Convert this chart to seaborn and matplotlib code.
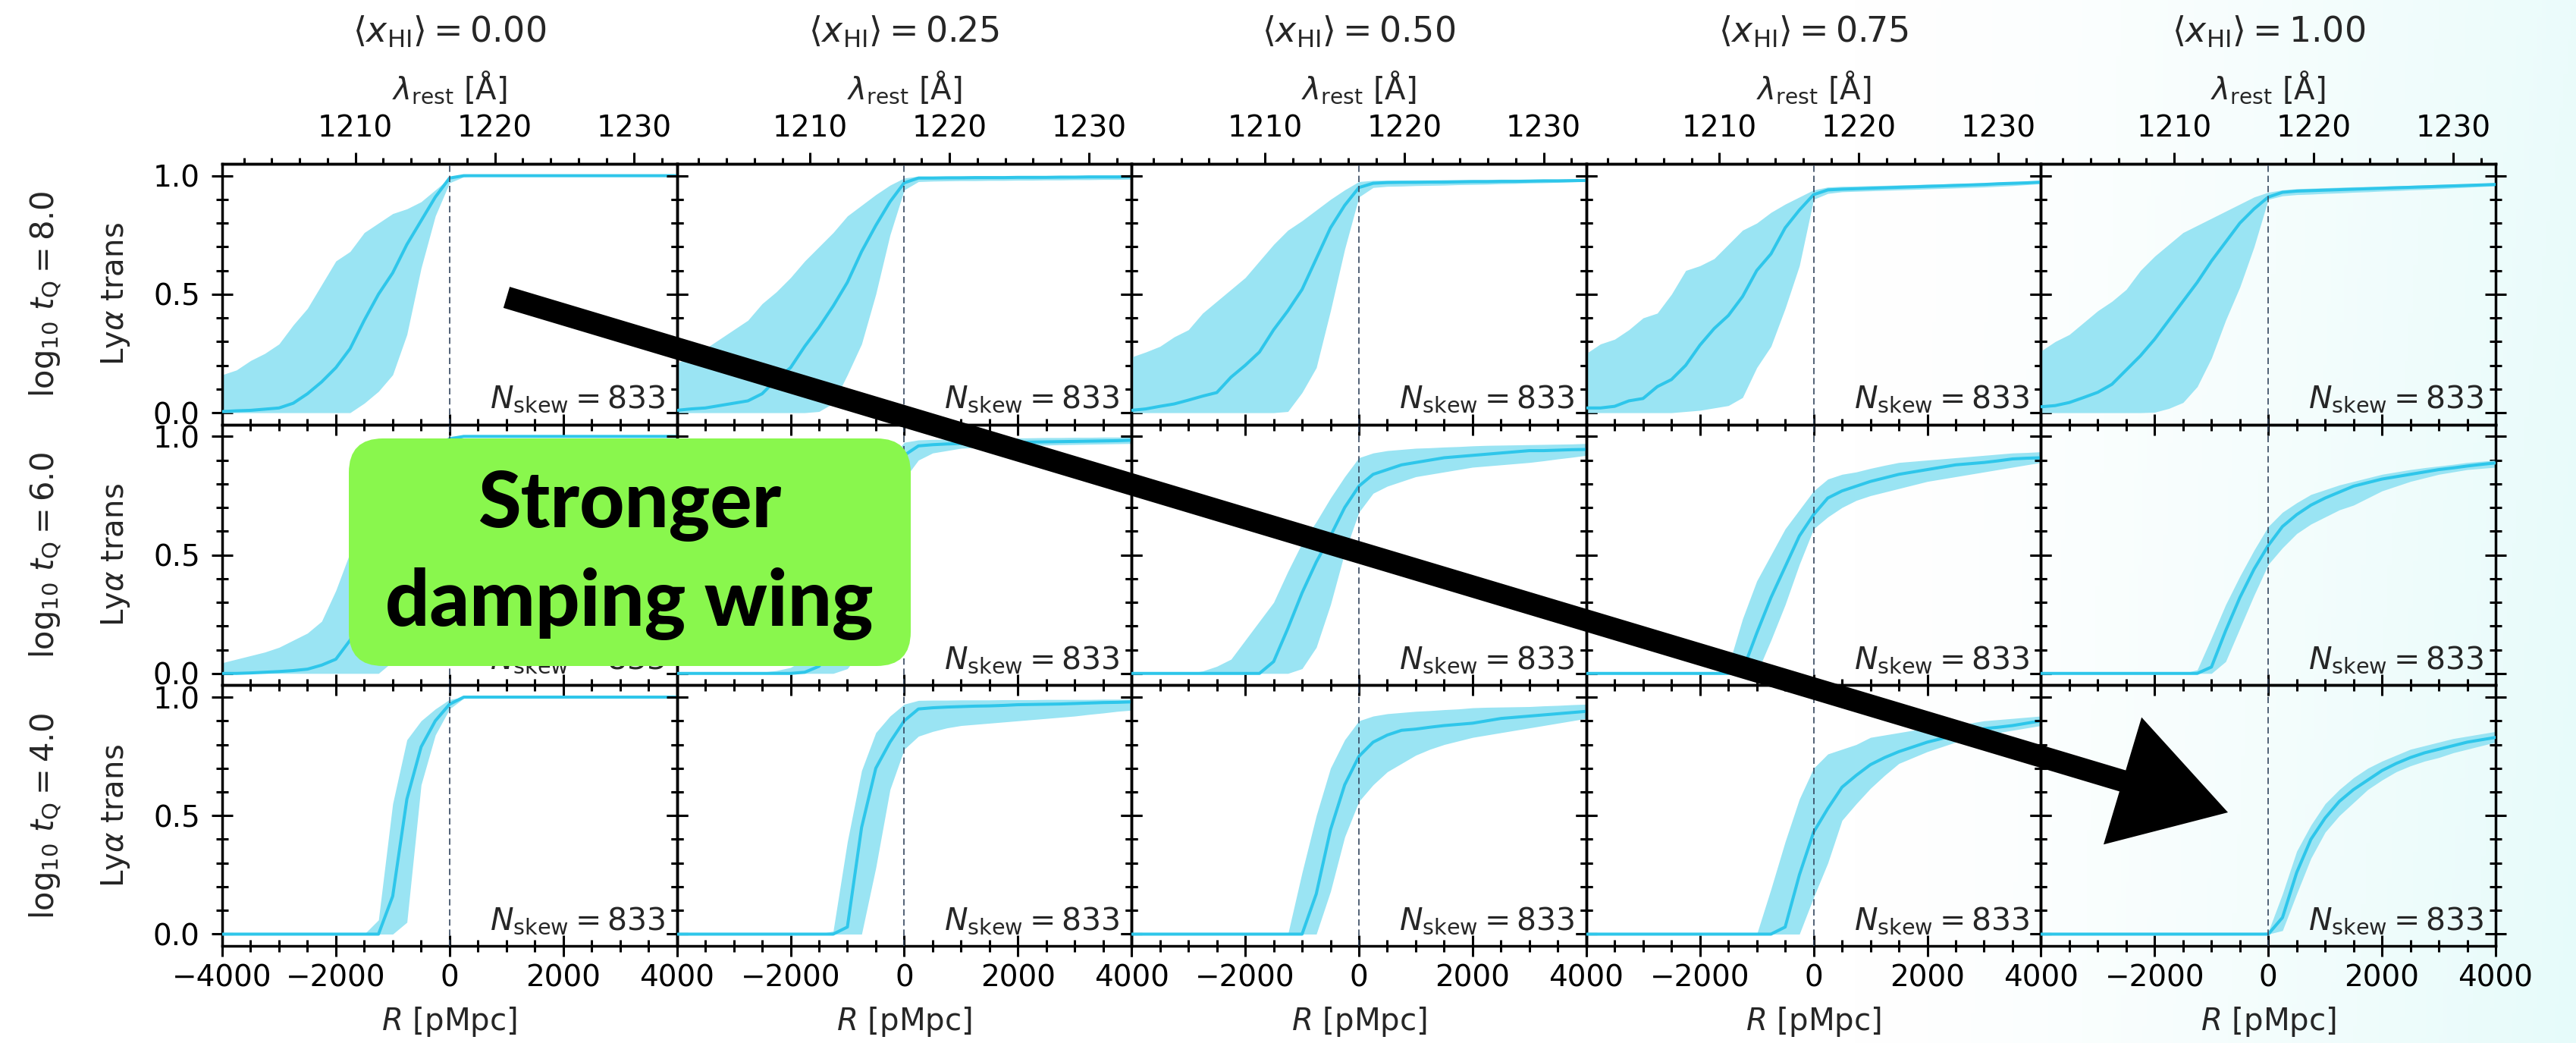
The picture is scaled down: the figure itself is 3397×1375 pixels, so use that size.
import numpy as np
import pandas as pd
import matplotlib
matplotlib.use("Agg")
import matplotlib.pyplot as plt
import matplotlib.patches as mpatches
from matplotlib.ticker import MultipleLocator, FixedLocator, FuncFormatter
import seaborn as sns

# ---------------------------------------------------------------- data
R_GRID = [-4000, -3750, -3500, -3250, -3000, -2750, -2500, -2250, -2000,
          -1750, -1500, -1250, -1000, -750, -500, -250, 0, 250, 500, 750,
          1000, 1250, 1500, 1750, 2000, 2250, 2500, 2750, 3000, 3250, 3500,
          3750, 4000]
XHI_LABELS = ["0.00", "0.25", "0.50", "0.75", "1.00"]
LOG_TQ_LABELS = ["8.0", "6.0", "4.0"]
N_SKEW = 833
LAMBDA_MAJOR = [1210, 1220, 1230]
LAMBDA_MINOR = [1202, 1204, 1206, 1208, 1212, 1214, 1216, 1218,
                1222, 1224, 1226, 1228, 1232]

# log10 tQ = 8.0 : median / 16th / 84th percentile transmission, one list per <x_HI>
med_t8 = [
    [0.005, 0.008, 0.010, 0.015, 0.020, 0.040, 0.080, 0.130, 0.190, 0.270, 0.390, 0.500, 0.590, 0.710, 0.810, 0.910, 0.990,
     1.0, 1.0, 1.0, 1.0, 1.0, 1.0, 1.0, 1.0, 1.0, 1.0, 1.0, 1.0, 1.0, 1.0, 1.0, 1.0],
    [0.010, 0.016, 0.020, 0.030, 0.040, 0.050, 0.080, 0.140, 0.190, 0.280, 0.360, 0.450, 0.550, 0.680, 0.790, 0.890, 0.970, 0.990,
     0.990, 0.991, 0.991, 0.992, 0.992, 0.992, 0.993, 0.993, 0.993, 0.994, 0.994, 0.995, 0.995, 0.995, 0.996],
    [0.010, 0.016, 0.027, 0.037, 0.053, 0.070, 0.085, 0.150, 0.200, 0.256, 0.350, 0.430, 0.520, 0.650, 0.780, 0.875, 0.950, 0.968,
     0.971, 0.972, 0.972, 0.973, 0.973, 0.974, 0.975, 0.975, 0.976, 0.976, 0.977, 0.978, 0.978, 0.979, 0.980],
    [0.020, 0.020, 0.027, 0.050, 0.060, 0.110, 0.140, 0.200, 0.285, 0.355, 0.410, 0.490, 0.600, 0.670, 0.780, 0.855, 0.920, 0.940,
     0.943, 0.945, 0.947, 0.949, 0.951, 0.953, 0.955, 0.957, 0.959, 0.961, 0.963, 0.966, 0.968, 0.970, 0.973],
    [0.025, 0.030, 0.043, 0.064, 0.086, 0.120, 0.180, 0.240, 0.310, 0.390, 0.470, 0.550, 0.640, 0.720, 0.800, 0.860, 0.910, 0.930,
     0.935, 0.937, 0.939, 0.941, 0.943, 0.945, 0.947, 0.949, 0.951, 0.953, 0.955, 0.957, 0.959, 0.961, 0.963],
]
lo_t8 = [
    [0, 0, 0, 0, 0, 0, 0, 0, 0, 0, 0.04, 0.09, 0.16, 0.33, 0.61, 0.83, 0.97, 0.995,
     1.0, 1.0, 1.0, 1.0, 1.0, 1.0, 1.0, 1.0, 1.0, 1.0, 1.0, 1.0, 1.0, 1.0, 1.0],
    [0, 0, 0, 0, 0, 0, 0, 0, 0, 0, 0.005, 0.04, 0.16, 0.29, 0.50, 0.75, 0.94, 0.975,
     0.977, 0.978, 0.979, 0.979, 0.980, 0.980, 0.981, 0.981, 0.982, 0.982, 0.983, 0.983, 0.984, 0.984, 0.985],
    [0, 0, 0, 0, 0, 0, 0, 0, 0, 0, 0, 0.005, 0.085, 0.19, 0.43, 0.69, 0.91, 0.95,
     0.955, 0.956, 0.958, 0.959, 0.960, 0.962, 0.963, 0.964, 0.966, 0.967, 0.969, 0.970, 0.972, 0.974, 0.976],
    [0, 0, 0, 0, 0, 0, 0, 0.005, 0.01, 0.02, 0.03, 0.064, 0.19, 0.28, 0.44, 0.62, 0.90, 0.925,
     0.932, 0.934, 0.936, 0.938, 0.940, 0.942, 0.944, 0.946, 0.948, 0.950, 0.952, 0.955, 0.958, 0.962, 0.966],
    [0, 0, 0, 0, 0, 0, 0, 0, 0.002, 0.018, 0.043, 0.11, 0.23, 0.39, 0.53, 0.70, 0.90, 0.915,
     0.920, 0.922, 0.925, 0.927, 0.930, 0.932, 0.935, 0.937, 0.940, 0.942, 0.945, 0.948, 0.951, 0.954, 0.957],
]
hi_t8 = [
    [0.16, 0.18, 0.22, 0.25, 0.29, 0.37, 0.44, 0.54, 0.64, 0.68, 0.76, 0.80, 0.84, 0.86, 0.89, 0.94, 0.99,
     1.0, 1.0, 1.0, 1.0, 1.0, 1.0, 1.0, 1.0, 1.0, 1.0, 1.0, 1.0, 1.0, 1.0, 1.0, 1.0],
    [0.21, 0.235, 0.27, 0.31, 0.35, 0.39, 0.46, 0.51, 0.57, 0.64, 0.70, 0.76, 0.83, 0.875, 0.92, 0.96, 0.99, 0.998,
     0.998, 0.998, 0.999, 0.999, 0.999, 0.999, 0.999, 1.0, 1.0, 1.0, 1.0, 1.0, 1.0, 1.0, 1.0],
    [0.235, 0.256, 0.280, 0.320, 0.350, 0.420, 0.470, 0.520, 0.570, 0.640, 0.710, 0.770, 0.810, 0.855, 0.900, 0.940, 0.975, 0.980,
     0.981, 0.981, 0.982, 0.982, 0.983, 0.983, 0.984, 0.984, 0.985, 0.985, 0.985, 0.986, 0.986, 0.987, 0.987],
    [0.25, 0.29, 0.31, 0.35, 0.40, 0.42, 0.50, 0.60, 0.62, 0.65, 0.71, 0.77, 0.80, 0.845, 0.88, 0.91, 0.94, 0.952,
     0.955, 0.956, 0.958, 0.959, 0.961, 0.962, 0.964, 0.965, 0.967, 0.968, 0.970, 0.972, 0.974, 0.976, 0.978],
    [0.26, 0.30, 0.33, 0.38, 0.43, 0.47, 0.52, 0.60, 0.66, 0.71, 0.76, 0.79, 0.82, 0.85, 0.88, 0.91, 0.93, 0.94,
     0.945, 0.947, 0.949, 0.951, 0.953, 0.954, 0.956, 0.958, 0.959, 0.961, 0.963, 0.965, 0.966, 0.968, 0.970],
]

# log10 tQ = 6.0
med_t6 = [
    [0, 0, 0.002, 0.005, 0.008, 0.012, 0.018, 0.035, 0.06, 0.14, 0.25, 0.36, 0.48, 0.62, 0.76, 0.90, 0.99,
     1.0, 1.0, 1.0, 1.0, 1.0, 1.0, 1.0, 1.0, 1.0, 1.0, 1.0, 1.0, 1.0, 1.0, 1.0, 1.0],
    [0, 0, 0, 0, 0, 0, 0, 0, 0, 0.005, 0.03, 0.10, 0.22, 0.38, 0.56, 0.76, 0.92, 0.96,
     0.965, 0.968, 0.970, 0.972, 0.973, 0.974, 0.975, 0.976, 0.977, 0.978, 0.979, 0.980, 0.981, 0.982, 0.984],
    [0, 0, 0, 0, 0, 0, 0, 0, 0, 0, 0.05, 0.19, 0.34, 0.47, 0.58, 0.70, 0.79, 0.84,
     0.86, 0.88, 0.89, 0.90, 0.91, 0.915, 0.92, 0.925, 0.93, 0.935, 0.94, 0.94, 0.942, 0.944, 0.945],
    [0, 0, 0, 0, 0, 0, 0, 0, 0, 0, 0, 0.01, 0.17, 0.32, 0.45, 0.58, 0.67, 0.74,
     0.77, 0.79, 0.81, 0.825, 0.84, 0.85, 0.86, 0.87, 0.88, 0.885, 0.89, 0.897, 0.905, 0.908, 0.91],
    [0, 0, 0, 0, 0, 0, 0, 0, 0, 0, 0, 0, 0.027, 0.18, 0.32, 0.44, 0.54, 0.62,
     0.67, 0.71, 0.74, 0.765, 0.79, 0.805, 0.82, 0.83, 0.84, 0.85, 0.86, 0.867, 0.875, 0.882, 0.888],
]
lo_t6 = [
    [0, 0, 0, 0, 0, 0, 0, 0, 0, 0, 0, 0, 0.05, 0.20, 0.45, 0.75, 0.97, 0.998,
     1.0, 1.0, 1.0, 1.0, 1.0, 1.0, 1.0, 1.0, 1.0, 1.0, 1.0, 1.0, 1.0, 1.0, 1.0],
    [0, 0, 0, 0, 0, 0, 0, 0, 0, 0, 0, 0, 0.02, 0.10, 0.28, 0.55, 0.82, 0.90,
     0.930, 0.940, 0.950, 0.953, 0.956, 0.958, 0.960, 0.962, 0.963, 0.965, 0.966, 0.967, 0.968, 0.969, 0.970],
    [0, 0, 0, 0, 0, 0, 0, 0, 0, 0, 0, 0, 0.02, 0.11, 0.29, 0.51, 0.68, 0.76,
     0.79, 0.81, 0.83, 0.84, 0.85, 0.86, 0.87, 0.875, 0.88, 0.885, 0.89, 0.897, 0.905, 0.912, 0.92],
    [0, 0, 0, 0, 0, 0, 0, 0, 0, 0, 0, 0, 0, 0.14, 0.29, 0.46, 0.61, 0.66,
     0.70, 0.73, 0.75, 0.765, 0.78, 0.795, 0.81, 0.82, 0.83, 0.84, 0.85, 0.86, 0.87, 0.88, 0.89],
    [0, 0, 0, 0, 0, 0, 0, 0, 0, 0, 0, 0, 0, 0.05, 0.19, 0.33, 0.46, 0.53,
     0.59, 0.63, 0.66, 0.69, 0.71, 0.74, 0.77, 0.79, 0.81, 0.825, 0.84, 0.85, 0.86, 0.865, 0.87],
]
hi_t6 = [
    [0.045, 0.06, 0.075, 0.09, 0.11, 0.14, 0.17, 0.22, 0.35, 0.51, 0.62, 0.72, 0.80, 0.87, 0.93, 0.97, 1.0,
     1.0, 1.0, 1.0, 1.0, 1.0, 1.0, 1.0, 1.0, 1.0, 1.0, 1.0, 1.0, 1.0, 1.0, 1.0, 1.0],
    [0, 0, 0, 0, 0, 0, 0.005, 0.012, 0.025, 0.06, 0.14, 0.28, 0.45, 0.62, 0.78, 0.90, 0.975, 0.985,
     0.987, 0.988, 0.990, 0.991, 0.992, 0.993, 0.993, 0.994, 0.995, 0.995, 0.996, 0.996, 0.997, 0.997, 0.998],
    [0, 0, 0, 0, 0, 0.01, 0.03, 0.06, 0.14, 0.22, 0.30, 0.43, 0.55, 0.64, 0.74, 0.83, 0.91, 0.93,
     0.94, 0.945, 0.95, 0.952, 0.955, 0.957, 0.96, 0.962, 0.963, 0.964, 0.965, 0.966, 0.967, 0.968, 0.97],
    [0, 0, 0, 0, 0, 0, 0, 0, 0, 0, 0.03, 0.23, 0.39, 0.50, 0.61, 0.69, 0.77, 0.82,
     0.84, 0.85, 0.865, 0.878, 0.89, 0.895, 0.90, 0.905, 0.91, 0.915, 0.92, 0.925, 0.93, 0.932, 0.935],
    [0, 0, 0, 0, 0, 0, 0, 0, 0, 0, 0, 0.015, 0.15, 0.29, 0.41, 0.52, 0.62, 0.68,
     0.72, 0.755, 0.775, 0.795, 0.81, 0.825, 0.84, 0.85, 0.86, 0.868, 0.875, 0.882, 0.89, 0.895, 0.90],
]

# log10 tQ = 4.0
med_t4 = [
    [0, 0, 0, 0, 0, 0, 0, 0, 0, 0, 0, 0, 0.16, 0.57, 0.79, 0.90, 0.97,
     1.0, 1.0, 1.0, 1.0, 1.0, 1.0, 1.0, 1.0, 1.0, 1.0, 1.0, 1.0, 1.0, 1.0, 1.0, 1.0],
    [0, 0, 0, 0, 0, 0, 0, 0, 0, 0, 0, 0, 0.03, 0.45, 0.70, 0.81, 0.90, 0.95,
     0.955, 0.958, 0.96, 0.962, 0.963, 0.965, 0.968, 0.969, 0.97, 0.971, 0.973, 0.975, 0.977, 0.978, 0.98],
    [0, 0, 0, 0, 0, 0, 0, 0, 0, 0, 0, 0, 0, 0.17, 0.44, 0.63, 0.75, 0.81,
     0.84, 0.86, 0.865, 0.873, 0.88, 0.885, 0.89, 0.90, 0.91, 0.915, 0.92, 0.925, 0.93, 0.935, 0.94],
    [0, 0, 0, 0, 0, 0, 0, 0, 0, 0, 0, 0, 0, 0, 0.03, 0.25, 0.43, 0.53,
     0.62, 0.67, 0.715, 0.745, 0.77, 0.79, 0.81, 0.825, 0.84, 0.855, 0.867, 0.873, 0.88, 0.89, 0.90],
    [0, 0, 0, 0, 0, 0, 0, 0, 0, 0, 0, 0, 0, 0, 0, 0, 0, 0.07,
     0.26, 0.40, 0.49, 0.56, 0.61, 0.65, 0.69, 0.72, 0.745, 0.765, 0.78, 0.795, 0.81, 0.82, 0.83],
]
lo_t4 = [
    [0, 0, 0, 0, 0, 0, 0, 0, 0, 0, 0, 0, 0, 0.05, 0.63, 0.84, 0.95, 0.995,
     1.0, 1.0, 1.0, 1.0, 1.0, 1.0, 1.0, 1.0, 1.0, 1.0, 1.0, 1.0, 1.0, 1.0, 1.0],
    [0, 0, 0, 0, 0, 0, 0, 0, 0, 0, 0, 0, 0, 0, 0.28, 0.61, 0.78, 0.835,
     0.855, 0.87, 0.88, 0.885, 0.89, 0.895, 0.90, 0.905, 0.91, 0.915, 0.92, 0.927, 0.933, 0.94, 0.945],
    [0, 0, 0, 0, 0, 0, 0, 0, 0, 0, 0, 0, 0, 0, 0.18, 0.41, 0.56, 0.63,
     0.685, 0.72, 0.755, 0.78, 0.80, 0.815, 0.83, 0.84, 0.85, 0.86, 0.87, 0.88, 0.89, 0.90, 0.91],
    [0, 0, 0, 0, 0, 0, 0, 0, 0, 0, 0, 0, 0, 0, 0, 0, 0.155, 0.30,
     0.48, 0.55, 0.615, 0.67, 0.72, 0.745, 0.77, 0.79, 0.81, 0.82, 0.835, 0.85, 0.86, 0.87, 0.88],
    [0, 0, 0, 0, 0, 0, 0, 0, 0, 0, 0, 0, 0, 0, 0, 0, 0, 0.015,
     0.17, 0.32, 0.43, 0.50, 0.555, 0.61, 0.65, 0.685, 0.71, 0.73, 0.745, 0.765, 0.78, 0.795, 0.81],
]
hi_t4 = [
    [0, 0, 0, 0, 0, 0, 0, 0, 0, 0, 0, 0.06, 0.55, 0.82, 0.90, 0.95, 0.99,
     1.0, 1.0, 1.0, 1.0, 1.0, 1.0, 1.0, 1.0, 1.0, 1.0, 1.0, 1.0, 1.0, 1.0, 1.0, 1.0],
    [0, 0, 0, 0, 0, 0, 0, 0, 0, 0, 0, 0.013, 0.39, 0.69, 0.85, 0.92, 0.97, 0.986,
     0.987, 0.987, 0.988, 0.988, 0.988, 0.989, 0.989, 0.989, 0.99, 0.99, 0.99, 0.99, 0.991, 0.991, 0.991],
    [0, 0, 0, 0, 0, 0, 0, 0, 0, 0, 0, 0, 0.26, 0.50, 0.70, 0.82, 0.90, 0.92,
     0.93, 0.935, 0.94, 0.943, 0.947, 0.95, 0.955, 0.957, 0.958, 0.959, 0.96, 0.963, 0.965, 0.968, 0.97],
    [0, 0, 0, 0, 0, 0, 0, 0, 0, 0, 0, 0, 0, 0.19, 0.39, 0.57, 0.70, 0.76,
     0.78, 0.80, 0.83, 0.84, 0.85, 0.86, 0.87, 0.875, 0.88, 0.89, 0.90, 0.905, 0.91, 0.915, 0.92],
    [0, 0, 0, 0, 0, 0, 0, 0, 0, 0, 0, 0, 0, 0, 0, 0, 0.01, 0.17,
     0.35, 0.46, 0.55, 0.61, 0.66, 0.70, 0.73, 0.755, 0.78, 0.795, 0.81, 0.825, 0.835, 0.845, 0.855],
]

MED = [med_t8, med_t6, med_t4]
LO = [lo_t8, lo_t6, lo_t4]
HI = [hi_t8, hi_t6, hi_t4]
for block in (MED, LO, HI):
    for row in block:
        for series in row:
            assert len(series) == len(R_GRID)

# ---------------------------------------------------------------- style
LINE_C = "#2ec6ea"
BAND_C = "#9ae4f3"
DASH_C = "#34465e"
LAM_AT_R0 = 1216.75     # rest wavelength (Angstrom) at R = 0
ANG_PER_R = 0.004076    # Angstrom per unit of R

sns.set_theme(style="ticks")
plt.rcParams.update({
    "font.family": ["DejaVu Sans"],
    "mathtext.fontset": "dejavusans",
    "axes.linewidth": 2.5,
    "axes.edgecolor": "black",
    "xtick.color": "black",
    "ytick.color": "black",
    "axes.unicode_minus": True,
})

W, H, DPI = 3397, 1375, 100
fig = plt.figure(figsize=(W / DPI, H / DPI), dpi=DPI, facecolor="white")

# soft cyan wash toward the right-hand side
bg = fig.add_axes([0, 0, 1, 1], zorder=-10)
bg.set_axis_off()
gx, gy = np.meshgrid(np.linspace(0, 1, 600), np.linspace(0, 1, 240))
wash = np.clip((gx - 0.72) / 0.28, 0, 1) ** 1.4 * (0.8 + 0.2 * gy)
tint = np.array([230, 251, 250]) / 255.0
img = np.ones(gx.shape + (3,)) * (1 - wash[..., None]) + tint * wash[..., None]
bg.imshow(img, extent=[0, 1, 0, 1], aspect="auto", origin="upper")
bg.set_xlim(0, 1)
bg.set_ylim(0, 1)

PX_LEFT, PX_TOP = 293, 216
PW, PH = 599.6, 343.7
TICK_FS = 28
LABEL_FS = 29


def xfmt(hide_left):
    def f(v, pos):
        if hide_left and v <= -4000:
            return ""
        return f"{v:.0f}".replace("-", "\u2212")
    return FuncFormatter(f)


for r in range(3):
    for c in range(5):
        ax = fig.add_axes([(PX_LEFT + c * PW) / W,
                           1 - (PX_TOP + (r + 1) * PH) / H,
                           PW / W, PH / H])
        ax.set_facecolor("none")
        df = pd.DataFrame({"R": R_GRID, "med": MED[r][c],
                           "lo": LO[r][c], "hi": HI[r][c]})
        ax.fill_between(df["R"], df["lo"], df["hi"], color=BAND_C, lw=0, zorder=2)
        sns.lineplot(data=df, x="R", y="med", ax=ax, color=LINE_C, lw=2.9,
                     estimator=None, zorder=3)
        ax.axvline(0, color=DASH_C, lw=1.2, ls=(0, (5, 3)), zorder=4)
        ax.set_xlim(-4000, 4000)
        ax.set_ylim(-0.05, 1.05)
        ax.set_xlabel("")
        ax.set_ylabel("")

        ax.xaxis.set_major_locator(MultipleLocator(2000))
        ax.xaxis.set_minor_locator(MultipleLocator(500))
        ax.yaxis.set_major_locator(MultipleLocator(0.5))
        ax.yaxis.set_minor_locator(MultipleLocator(0.1))
        ax.tick_params(which="both", direction="inout", top=False, right=True,
                       width=2.2, labelsize=TICK_FS)
        ax.tick_params(which="major", length=20)
        ax.tick_params(which="minor", length=11)
        ax.tick_params(axis="x", pad=7)
        ax.tick_params(axis="y", pad=11)
        ax.xaxis.set_major_formatter(xfmt(c > 0))
        ax.yaxis.set_major_formatter(FuncFormatter(lambda v, p: f"{v:.1f}"))
        if r < 2:
            ax.tick_params(axis="x", labelbottom=False)
        if c > 0:
            ax.tick_params(axis="y", labelleft=False)

        ax.text(0.975, 0.064, rf"$N_{{\rm skew}} = {N_SKEW}$", transform=ax.transAxes,
                ha="right", va="baseline", fontsize=29.5, zorder=5)

        if r == 0:
            sec = ax.secondary_xaxis(
                "top",
                functions=(lambda R: LAM_AT_R0 + ANG_PER_R * R,
                           lambda lam: (lam - LAM_AT_R0) / ANG_PER_R))
            sec.xaxis.set_major_locator(FixedLocator(LAMBDA_MAJOR))
            sec.xaxis.set_minor_locator(FixedLocator(LAMBDA_MINOR))
            sec.tick_params(which="both", direction="out", width=2.2,
                            labelsize=TICK_FS, pad=9)
            sec.tick_params(which="major", length=11)
            sec.tick_params(which="minor", length=5.5)
            sec.spines["top"].set_linewidth(2.5)
            ax.text(0.5, 1 + 101 / PH, r"$\lambda_{\rm rest}$ [Å]", transform=ax.transAxes,
                    ha="center", va="center", fontsize=LABEL_FS)
            ax.text(0.5, 1 + 174 / PH, rf"$\langle x_{{\rm HI}}\rangle = {XHI_LABELS[c]}$",
                    transform=ax.transAxes, ha="center", va="center", fontsize=33)

        if c == 0:
            ax.set_ylabel(r"Ly$\alpha$ trans", fontsize=LABEL_FS)
            ax.yaxis.set_label_coords((153 - PX_LEFT) / PW, 0.5)
            ax.yaxis.label.set_va("center")
            ax.text((60 - PX_LEFT) / PW, 0.5,
                    rf"$\log_{{10}}\,t_{{\rm Q}} = {LOG_TQ_LABELS[r]}$",
                    transform=ax.transAxes, rotation=90, ha="center", va="center",
                    rotation_mode="anchor", fontsize=30)

        if r == 2:
            ax.set_xlabel(r"$R$ [pMpc]", fontsize=LABEL_FS)
            ax.xaxis.set_label_coords(0.5, -(1347 - (PX_TOP + 3 * PH)) / PH)
            ax.xaxis.label.set_va("center")

# ---------------------------------------------------------------- annotation layer
ov = fig.add_axes([0, 0, 1, 1], zorder=30)
ov.set_axis_off()
ov.set_xlim(0, W)
ov.set_ylim(H, 0)
ov.patch.set_alpha(0)

box = mpatches.FancyBboxPatch((460, 578), 741, 300,
                              boxstyle="round,pad=0,rounding_size=45",
                              fc="#89f74d", ec="none", zorder=1)
ov.add_patch(box)
for txt, yb in (("Stronger", 695), ("damping wing", 825)):
    ov.text(830, yb, txt, ha="center", va="baseline", fontsize=74,
            fontweight="black", family=["Lato", "DejaVu Sans"], color="black", zorder=2)

arrow = mpatches.FancyArrow(668, 392, 2270, 679, width=29, head_width=175,
                            head_length=145, length_includes_head=True,
                            fc="black", ec="none", zorder=3)
ov.add_patch(arrow)

fig.savefig("out.png", dpi=DPI, facecolor="white")
